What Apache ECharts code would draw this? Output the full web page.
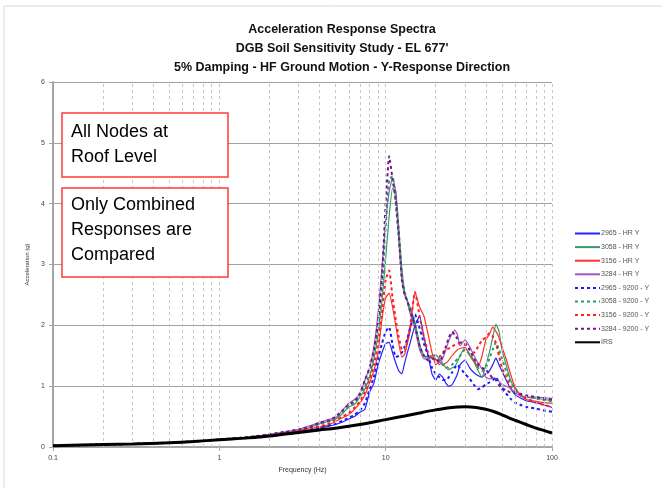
<!DOCTYPE html>
<html>
<head>
<meta charset="utf-8">
<script src="https://cdn.jsdelivr.net/npm/echarts@6/dist/echarts.min.js"></script>
<style>
  html, body { margin: 0; padding: 0; background: #fff; }
  #chart { width: 662px; height: 488px; }
</style>
</head>
<body>
<div id="chart"></div>
<script>
// Frequencies (Hz) shared by the eight response curves
const freqHz = [0.1,0.2,0.3,0.5,0.7,1,1.5,2,2.5,3,3.5,4,4.5,5,5.5,6,6.5,7,7.5,8,8.5,9,9.5,10,10.5,11,11.5,12,12.5,13,13.5,14,15,16,17,18,19,20,21,22,23,24,25,26,27,28,30,32,34,36,38,40,42,44,46,48,50,53,56,60,65,70,80,90,100];

// Spectral acceleration (g), HR runs
const hr2965 = [0.02,0.04,0.05,0.07,0.09,0.12,0.16,0.2,0.23,0.26,0.28,0.31,0.34,0.37,0.41,0.46,0.5,0.57,0.62,0.9,1.05,1.35,1.55,1.7,1.72,1.55,1.38,1.25,1.2,1.38,1.55,1.7,2.0,2.15,1.8,1.5,1.2,1.1,1.2,1.15,1.05,1.0,1.02,1.1,1.2,1.35,1.43,1.3,1.22,1.17,1.15,1.2,1.25,1.35,1.46,1.35,1.25,1.1,0.97,0.86,0.8,0.76,0.73,0.69,0.65];
const hr3058 = [0.02,0.04,0.05,0.07,0.09,0.12,0.16,0.2,0.24,0.28,0.32,0.38,0.42,0.46,0.55,0.66,0.7,0.82,0.95,1.15,1.45,1.85,2.4,3.1,3.8,4.25,4.2,3.6,2.95,2.55,2.4,2.3,2.05,1.7,1.5,1.48,1.5,1.52,1.45,1.38,1.3,1.27,1.3,1.32,1.4,1.5,1.64,1.5,1.4,1.25,1.15,1.35,1.55,1.8,2.02,1.9,1.6,1.35,1.12,0.95,0.85,0.82,0.8,0.78,0.77];
const hr3156 = [0.02,0.04,0.05,0.07,0.09,0.12,0.16,0.2,0.23,0.27,0.3,0.33,0.36,0.42,0.48,0.53,0.62,0.72,0.85,1.05,1.25,1.55,2.1,2.45,2.53,2.3,2.0,1.7,1.48,1.52,1.7,1.9,2.55,2.3,2.15,1.85,1.55,1.35,1.4,1.35,1.38,1.43,1.5,1.55,1.6,1.62,1.64,1.52,1.4,1.32,1.5,1.76,1.85,1.97,1.9,1.8,1.65,1.45,1.22,0.98,0.85,0.78,0.75,0.73,0.72];
const hr3284 = [0.02,0.04,0.05,0.07,0.09,0.12,0.16,0.21,0.25,0.29,0.35,0.4,0.45,0.48,0.6,0.72,0.78,0.88,1.1,1.3,1.65,2.2,2.95,3.7,4.2,4.42,4.2,3.4,2.75,2.5,2.4,2.2,1.95,1.6,1.45,1.45,1.48,1.45,1.35,1.45,1.6,1.75,1.85,1.92,1.85,1.66,1.76,1.65,1.5,1.38,1.28,1.15,1.12,1.13,1.13,1.08,1.03,1.0,0.97,0.9,0.83,0.82,0.82,0.81,0.8];

// Spectral acceleration (g), 9200 runs
const s2965 = [0.02,0.04,0.05,0.07,0.09,0.12,0.16,0.2,0.23,0.26,0.29,0.32,0.35,0.38,0.43,0.48,0.53,0.6,0.72,0.95,1.15,1.45,1.7,1.9,1.97,1.68,1.48,1.5,1.55,1.65,1.78,1.95,2.18,1.95,1.7,1.5,1.3,1.2,1.15,1.1,1.1,1.15,1.22,1.3,1.35,1.3,1.2,1.12,1.02,0.95,0.98,1.03,1.06,1.1,1.15,1.05,0.95,0.88,0.8,0.73,0.69,0.66,0.63,0.6,0.58];
const s3058 = [0.02,0.04,0.05,0.07,0.09,0.12,0.16,0.2,0.24,0.28,0.33,0.38,0.42,0.47,0.56,0.66,0.72,0.85,1.0,1.2,1.5,1.95,2.6,3.6,4.4,4.45,4.0,3.4,2.85,2.55,2.4,2.25,2.0,1.65,1.5,1.45,1.5,1.5,1.42,1.35,1.32,1.3,1.35,1.4,1.45,1.5,1.6,1.52,1.42,1.3,1.25,1.3,1.45,1.6,1.72,1.6,1.45,1.25,1.08,0.95,0.87,0.83,0.8,0.77,0.75];
const s3156 = [0.02,0.04,0.05,0.07,0.09,0.12,0.16,0.2,0.23,0.27,0.31,0.34,0.38,0.44,0.5,0.56,0.65,0.75,0.9,1.1,1.35,1.7,2.2,2.75,2.9,2.45,2.09,1.8,1.6,1.58,1.75,1.95,2.55,2.15,1.8,1.55,1.45,1.43,1.48,1.55,1.6,1.62,1.65,1.68,1.7,1.71,1.68,1.6,1.55,1.65,1.76,1.8,1.87,1.82,1.71,1.5,1.3,1.15,1.0,0.92,0.85,0.8,0.73,0.69,0.66];
const s3284 = [0.02,0.04,0.05,0.07,0.09,0.12,0.16,0.21,0.25,0.29,0.33,0.4,0.43,0.5,0.6,0.7,0.75,0.88,1.1,1.3,1.6,2.05,2.8,4.0,4.78,4.4,4.06,3.5,2.75,2.5,2.4,2.25,2.0,1.65,1.5,1.42,1.45,1.45,1.4,1.5,1.65,1.8,1.89,1.85,1.78,1.72,1.71,1.6,1.45,1.35,1.3,1.27,1.2,1.13,1.1,1.02,0.97,0.93,0.9,0.89,0.87,0.85,0.82,0.8,0.78];

// Required response spectrum
const irsFreqHz = [0.1,0.2,0.3,0.5,0.7,1,1.5,2,3,4,5,7,10,13,16,20,25,30,35,40,45,50,55,60,70,80,90,100];
const irsValues = [0.02,0.04,0.05,0.07,0.09,0.12,0.15,0.18,0.24,0.28,0.31,0.37,0.45,0.51,0.56,0.61,0.65,0.66,0.65,0.62,0.58,0.53,0.48,0.44,0.37,0.31,0.27,0.23];

const seriesNames = ['2965 - HR Y','3058 - HR Y','3156 - HR Y','3284 - HR Y',
  '2965 - 9200 - Y','3058 - 9200 - Y','3156 - 9200 - Y','3284 - 9200 - Y','IRS'];
const gridFreqs = [0.2,0.3,0.4,0.5,0.6,0.7,0.8,0.9,1,2,3,4,5,6,7,8,9,10,20,30,40,50,60,70,80,90,100];
const titleLines = ['Acceleration Response Spectra','DGB Soil Sensitivity Study - EL 677\'','5% Damping - HF Ground Motion - Y-Response Direction'];

const pair = (xs, ys) => xs.map((x, i) => [x, ys[i]]);

const styles = [
  { data: hr2965, color: '#2323ff', dash: 'solid', width: 1.2 },
  { data: hr3058, color: '#3b9a6b', dash: 'solid', width: 1.2 },
  { data: hr3156, color: '#ff3030', dash: 'solid', width: 1.2 },
  { data: hr3284, color: '#a257c0', dash: 'solid', width: 1.2 },
  { data: s2965, color: '#1a1aff', dash: [3, 3], width: 2 },
  { data: s3058, color: '#2f9a62', dash: [3, 3], width: 2 },
  { data: s3156, color: '#ff2020', dash: [3, 3], width: 2 },
  { data: s3284, color: '#6e1a88', dash: [3, 3], width: 2 }
];

const series = [{
  name: 'gridlines',
  type: 'line',
  data: [],
  silent: true,
  z: 1,
  markLine: {
    silent: true,
    symbol: 'none',
    label: { show: false },
    lineStyle: { color: '#c6c6c6', type: [3, 3], width: 1 },
    data: gridFreqs.map(f => ({ xAxis: f }))
  }
}];

styles.forEach((s, i) => {
  series.push({
    name: seriesNames[i],
    type: 'line',
    data: pair(freqHz, s.data),
    showSymbol: false,
    symbol: 'none',
    smooth: 0.15,
    z: 3,
    lineStyle: { color: s.color, type: s.dash, width: s.width },
    itemStyle: { color: s.color }
  });
});

series.push({
  name: seriesNames[8],
  type: 'line',
  data: pair(irsFreqHz, irsValues),
  symbol: 'none',
  smooth: 0.3,
  z: 5,
  lineStyle: { color: '#000', width: 3 },
  itemStyle: { color: '#000' }
});

const boxText = { fontSize: 18, lineHeight: 25, fill: '#000', fontFamily: 'Liberation Sans, Arial, sans-serif' };

const chart = echarts.init(document.getElementById('chart'), null, { renderer: 'canvas' });
chart.setOption({
  animation: false,
  backgroundColor: '#fff',
  textStyle: { fontFamily: 'Liberation Sans, Arial, sans-serif' },
  title: titleLines.map((t, i) => ({
    text: t,
    left: 337,
    top: 18 + i * 19,
    textAlign: 'center',
    textStyle: { fontSize: 12.5, fontWeight: 'bold', color: '#111', fontFamily: 'Liberation Sans Narrow, Liberation Sans, Arial, sans-serif' }
  })),
  grid: { left: 53, right: 110, top: 82, bottom: 41, containLabel: false },
  legend: {
    orient: 'vertical',
    left: 574,
    top: 229,
    padding: 0,
    itemWidth: 25,
    itemHeight: 8,
    itemGap: 4.6,
    data: seriesNames,
    itemStyle: { opacity: 0 },
    textStyle: { fontSize: 7, color: '#555', padding: [0, 0, 0, -4], lineHeight: 9 }
  },
  xAxis: {
    type: 'log',
    logBase: 10,
    min: 0.1,
    max: 100,
    name: 'Frequency (Hz)',
    nameLocation: 'middle',
    nameGap: 20,
    nameTextStyle: { fontSize: 7, color: '#333' },
    axisLine: { show: true, onZero: false, lineStyle: { color: '#a6a6a6', width: 2 } },
    axisTick: { show: true, length: 4, lineStyle: { color: '#a6a6a6' } },
    axisLabel: { fontSize: 7, color: '#444', margin: 8, formatter: v => String(+(+v).toPrecision(3)) },
    splitLine: { show: false },
    minorTick: { show: false }
  },
  yAxis: {
    type: 'value',
    min: 0,
    max: 6,
    interval: 1,
    name: 'Acceleration (g)',
    nameLocation: 'middle',
    nameRotate: 90,
    nameGap: 20,
    nameTextStyle: { fontSize: 6, color: '#333' },
    axisLine: { show: true, lineStyle: { color: '#a6a6a6', width: 2 } },
    axisTick: { show: true, length: 4, lineStyle: { color: '#a6a6a6' } },
    axisLabel: { fontSize: 7, color: '#444', margin: 8 },
    splitLine: { show: true, lineStyle: { color: '#a0a0a0', width: 1 } }
  },
  graphic: [
    {
      type: 'rect',
      silent: true,
      shape: { x: 4, y: 6, width: 700, height: 500 },
      style: { fill: 'none', stroke: '#d9d9d9', lineWidth: 1 },
      z: -10
    },
    { type: 'rect', z: 100, silent: true,
      shape: { x: 62, y: 113, width: 166, height: 64 },
      style: { fill: '#fff', stroke: '#ff3b3b', lineWidth: 1.5 } },
    { type: 'text', z: 101, silent: true, x: 71, y: 120,
      style: Object.assign({ text: 'All Nodes at\nRoof Level' }, boxText) },
    { type: 'rect', z: 100, silent: true,
      shape: { x: 62, y: 188, width: 166, height: 89 },
      style: { fill: '#fff', stroke: '#ff3b3b', lineWidth: 1.5 } },
    { type: 'text', z: 101, silent: true, x: 71, y: 193,
      style: Object.assign({ text: 'Only Combined\nResponses are\nCompared' }, boxText) }
  ],
  series: series
});
</script>
</body>
</html>
